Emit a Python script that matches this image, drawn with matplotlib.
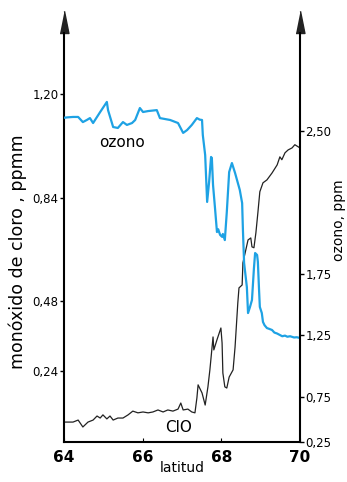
import numpy as np
import matplotlib
matplotlib.use("Agg")
import matplotlib.pyplot as plt

# ozono (ppm) vs latitud
lat_o3 = [64.00, 64.10, 64.23, 64.36, 64.48, 64.58, 64.66, 64.74, 64.92, 65.09,
          65.12, 65.25, 65.37, 65.50, 65.60, 65.73, 65.81, 65.93, 66.01, 66.14,
          66.36, 66.44, 66.70, 66.90, 67.03, 67.13, 67.25, 67.38, 67.45, 67.51,
          67.53, 67.59, 67.64, 67.69, 67.74, 67.76, 67.79, 67.84, 67.89, 67.92,
          67.97, 68.02, 68.04, 68.09, 68.14, 68.20, 68.27, 68.35, 68.47, 68.53,
          68.55, 68.58, 68.65, 68.68, 68.73, 68.78, 68.83, 68.86, 68.91, 68.93,
          68.96, 68.98, 69.03, 69.06, 69.10, 69.16, 69.22, 69.29, 69.35, 69.42,
          69.49, 69.55, 69.62, 69.68, 69.75, 69.85, 69.92, 70.00]
o3 = [2.570, 2.572, 2.574, 2.574, 2.547, 2.558, 2.568, 2.542, 2.600, 2.653,
      2.610, 2.521, 2.516, 2.547, 2.532, 2.542, 2.558, 2.621, 2.600, 2.605,
      2.610, 2.568, 2.558, 2.542, 2.490, 2.505, 2.532, 2.568, 2.560, 2.558,
      2.479, 2.374, 2.128, 2.233, 2.364, 2.358, 2.217, 2.096, 1.970, 1.985,
      1.955, 1.945, 1.960, 1.928, 2.075, 2.285, 2.332, 2.280, 2.191, 2.122,
      1.981, 1.808, 1.643, 1.430, 1.480, 1.537, 1.780, 1.860, 1.850, 1.814,
      1.620, 1.480, 1.430, 1.357, 1.330, 1.307, 1.300, 1.291, 1.270, 1.262,
      1.250, 1.240, 1.245, 1.236, 1.240, 1.230, 1.232, 1.226]

# monoxido de cloro (ppmm) vs latitud
lat_clo = [64.00, 64.03, 64.23, 64.36, 64.48, 64.61, 64.74, 64.84, 64.92, 64.99,
           65.09, 65.17, 65.25, 65.37, 65.50, 65.63, 65.75, 65.88, 66.01, 66.14,
           66.26, 66.39, 66.52, 66.64, 66.77, 66.90, 66.97, 67.03, 67.15, 67.25,
           67.33, 67.38, 67.41, 67.51, 67.59, 67.66, 67.71, 67.79, 67.81, 67.89,
           67.99, 68.02, 68.04, 68.09, 68.14, 68.20, 68.30, 68.35, 68.42, 68.45,
           68.53, 68.55, 68.68, 68.75, 68.78, 68.83, 68.88, 68.93, 68.98, 69.06,
           69.16, 69.29, 69.42, 69.49, 69.54, 69.62, 69.70, 69.80, 69.87, 70.00]
clo = [0.062, 0.062, 0.062, 0.069, 0.045, 0.062, 0.069, 0.083, 0.076, 0.087,
       0.073, 0.083, 0.069, 0.076, 0.076, 0.087, 0.100, 0.094, 0.097, 0.094,
       0.097, 0.104, 0.097, 0.104, 0.100, 0.107, 0.128, 0.104, 0.107, 0.097,
       0.094, 0.146, 0.191, 0.163, 0.121, 0.184, 0.243, 0.357, 0.312, 0.347,
       0.388, 0.336, 0.232, 0.184, 0.180, 0.218, 0.243, 0.322, 0.475, 0.527,
       0.537, 0.614, 0.693, 0.700, 0.669, 0.666, 0.718, 0.787, 0.860, 0.891,
       0.901, 0.925, 0.953, 0.981, 0.971, 0.995, 1.005, 1.012, 1.023, 1.012]

xticks = [64, 66, 68, 70]
clo_ticks = [0.24, 0.48, 0.84, 1.20]
clo_labels = ["0,24", "0,48", "0,84", "1,20"]
o3_ticks = [0.25, 0.75, 1.25, 1.75, 2.50]
o3_labels = ["0,25", "0,75", "1,25", "1,75", "2,50"]

# the printed ozone axis is not evenly spaced: piecewise scale through its ticks
o3_anchor = [0.0, 0.25, 0.75, 1.25, 1.75, 2.50, 3.50]
pos_anchor = [-23, 0, 45, 107, 168, 311, 501]

def fwd(v):
    return np.interp(v, o3_anchor, pos_anchor)

def inv(p):
    return np.interp(p, pos_anchor, o3_anchor)

blue = "#1ea2e4"

fig = plt.figure(figsize=(3.47, 4.82), dpi=100)
ax = fig.add_axes([0.1844, 0.083, 0.680, 0.8485])
ax2 = ax.twinx()

ax.plot(lat_clo, clo, color="#222222", lw=0.9)
ax2.set_yscale("function", functions=(fwd, inv))
ax2.plot(lat_o3, o3, color=blue, lw=1.6)

ax.set_xlim(64, 70)
ax.set_ylim(-0.007, 1.41)
ax2.set_ylim(0.25, inv(409))

for a in (ax, ax2):
    a.spines["top"].set_visible(False)
    for s in ("left", "right", "bottom"):
        a.spines[s].set_linewidth(1.5)
ax2.spines["left"].set_visible(False)
ax2.spines["bottom"].set_visible(False)
ax.spines["right"].set_visible(False)

ax.set_xticks(xticks)
ax.set_xticklabels([str(t) for t in xticks], fontsize=11, fontweight="bold")
ax.tick_params(axis="x", direction="in", length=3, pad=6)
ax.set_yticks(clo_ticks)
ax.set_yticklabels(clo_labels, fontsize=8.5)
ax.tick_params(axis="y", direction="out", length=3, width=1, pad=1)
ax2.set_yticks(o3_ticks)
ax2.set_yticklabels(o3_labels, fontsize=8.5)
ax2.minorticks_off()
ax2.tick_params(axis="y", direction="out", length=3, width=1, pad=1)

# arrow heads on the vertical axes
arrow = [(-1, 0), (1, 0), (0, 5)]
for xa in (0, 1):
    ax.plot(xa, 1, marker=arrow, markersize=32, color="#222222",
            transform=ax.transAxes, clip_on=False)

ax.set_xlabel("latitud", fontsize=10, labelpad=0)
ax.xaxis.set_label_coords(0.5, -0.047)
fig.text(0.052, 0.477, "monóxido de cloro , ppmm", rotation=90,
         ha="center", va="center", fontsize=12.5)
fig.text(0.977, 0.544, "ozono, ppm", rotation=90,
         ha="center", va="center", fontsize=10)

ax2.text(65.48, 2.44, "ozono", fontsize=11, ha="center", va="center")
ax.text(66.92, 0.042, "ClO", fontsize=11, ha="center", va="center")

fig.savefig("out.png", dpi=100)
